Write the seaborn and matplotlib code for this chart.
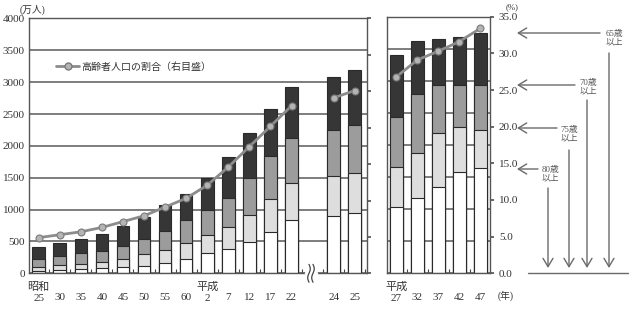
import matplotlib
matplotlib.use("Agg")
import matplotlib.pyplot as plt
import seaborn as sns
import pandas as pd
import numpy as np
from matplotlib.lines import Line2D

# ---------------- data ----------------
left_labels = ["昭和\n25", "\n30", "\n35", "\n40", "\n45", "\n50", "\n55", "\n60",
               "平成\n2", "\n7", "\n12", "\n17", "\n22", "\n24", "\n25"]
left_total = [410, 479, 535, 618, 740, 890, 1070, 1250, 1495, 1830, 2205, 2580, 2930, 3080, 3190]
left_70 = [220, 272, 314, 356, 429, 534, 665, 838, 995, 1179, 1493, 1844, 2122, 2253, 2331]
left_75 = [104, 130, 146, 183, 220, 298, 366, 481, 602, 723, 916, 1163, 1425, 1530, 1572]
left_80 = [41, 52, 63, 78, 94, 115, 157, 220, 314, 382, 497, 654, 838, 900, 943]
left_ratio = [4.9, 5.3, 5.7, 6.3, 7.1, 7.9, 9.1, 10.3, 12.1, 14.6, 17.4, 20.2, 23.0, 24.1, 25.1]

right_labels = ["平成\n27", "\n32", "\n37", "\n42", "\n47"]
right_total = [3403, 3621, 3652, 3678, 3741]
right_70 = [2432, 2790, 2935, 2935, 2935]
right_75 = [1652, 1880, 2182, 2285, 2234]
right_80 = [1029, 1178, 1350, 1584, 1637]
right_ratio = [26.8, 29.1, 30.3, 31.6, 33.4]

left_yticks = [0, 500, 1000, 1500, 2000, 2500, 3000, 3500, 4000]
right_yticks = [0, 5, 10, 15, 20, 25, 30, 35]
legend_label = "高齢者人口の割合（右目盛）"
age_notes = ["65歳\n以上", "70歳\n以上", "75歳\n以上", "80歳\n以上"]

# ---------------- style ----------------
sns.set_theme(style="white")
plt.rcParams['font.family'] = ['Liberation Serif', 'Noto Sans CJK JP', 'DejaVu Sans']
plt.rcParams['axes.unicode_minus'] = False

DARK, MID, LIGHT, WHITE = "#363636", "#9c9c9c", "#dedede", "#ffffff"
EDGE = "#2a2a2a"
GRID = "#5a5a5a"
LINEC = "#8c8c8c"
ANN = "#6a6a6a"

W, H = 632, 309
fig = plt.figure(figsize=(W / 100, H / 100), dpi=100)
axL = fig.add_axes([29 / W, 1 - 273.3 / H, 337.5 / W, 254.8 / H])
axR = fig.add_axes([386.7 / W, 1 - 273.3 / H, 103.8 / W, 256.6 / H])

left_pos = list(range(13)) + [14, 15]
right_pos = list(range(5))


def draw_panel(ax, pos, labels, tot, o70, o75, o80, ratio, xlim, segs):
    df = pd.DataFrame({"x": pos, "tot": tot, "o70": o70, "o75": o75, "o80": o80,
                       "ratio": ratio, "seg": segs})
    for col, c in [("tot", DARK), ("o70", MID), ("o75", LIGHT), ("o80", WHITE)]:
        sns.barplot(data=df, x="x", y=col, native_scale=True, width=0.6, color=c,
                    saturation=1, edgecolor=EDGE, linewidth=0.8, errorbar=None, ax=ax)
    ax.set_xlim(*xlim)
    ax.set_ylim(0, 4000)
    ax.set_yticks(left_yticks)
    ax.set_axisbelow(True)
    ax.yaxis.grid(True, color=GRID, lw=1.1)
    ax.xaxis.grid(False)
    ax.set_xlabel("")
    ax.set_ylabel("")
    ax.set_xticks(pos)
    ax.set_xticklabels(labels, fontsize=8, color="#333", linespacing=1.35)
    ax.set_xticks(np.arange(xlim[0] + 0.0, xlim[1], 1.0).round() - 0.5, minor=True)
    ax.tick_params(axis="x", which="major", length=0, pad=6)
    ax.tick_params(axis="x", which="minor", direction="in", length=3, bottom=True,
                   color="#444", width=0.8)
    for s in ax.spines.values():
        s.set_color("#555")
        s.set_linewidth(1.0)
    tw = ax.twinx()
    tw.set_ylim(0, 35)
    tw.set_yticks(right_yticks)
    tw.grid(False)
    sns.lineplot(data=df, x="x", y="ratio", units="seg", estimator=None, color=LINEC,
                 lw=2, marker="o", markersize=5, markerfacecolor="#b4b4b4",
                 markeredgecolor="#7a7a7a", markeredgewidth=0.8, ax=tw, legend=False)
    tw.set_xlim(*xlim)
    tw.set_ylabel("")
    for s in tw.spines.values():
        s.set_visible(False)
    return tw


twL = draw_panel(axL, left_pos, left_labels, left_total, left_70, left_75, left_80,
                 left_ratio, (-0.46, 15.56), [0 if p < 13 else 1 for p in left_pos])
twR = draw_panel(axR, right_pos, right_labels, right_total, right_70, right_75, right_80,
                 right_ratio, (-0.46, 4.49), [0] * 5)

axL.set_yticklabels([str(v) for v in left_yticks], fontsize=8, color="#333")
axL.tick_params(axis="y", length=0, pad=3)
axR.tick_params(axis="y", length=0, labelleft=False)
twL.tick_params(axis="y", direction="out", length=3, labelright=False, color="#555")
twR.set_yticklabels([f"{v:.1f}" for v in right_yticks], fontsize=8, color="#333")
twR.tick_params(axis="y", direction="out", length=3, pad=3, color="#555")

# break symbol on the left panel x-axis
tr = axL.get_xaxis_transform()
t = np.linspace(-1, 1, 40)
axL.plot([12.7, 13.15], [0, 0], color="white", lw=2.5, transform=tr, clip_on=False, zorder=5)
for dx in (12.83, 13.02):
    axL.plot(dx + 0.06 * np.sin(t * np.pi), t * 0.035, color="#444", lw=0.9,
             transform=tr, clip_on=False, zorder=6)

# legend
handle = Line2D([], [], color=LINEC, lw=2, marker="o", markersize=5,
                markerfacecolor="#b4b4b4", markeredgecolor="#7a7a7a")
fig.legend([handle], [legend_label], loc="center left", frameon=False,
           bbox_to_anchor=(56 / W, 1 - 67 / H), bbox_transform=fig.transFigure,
           borderpad=0, borderaxespad=0, handlelength=2.3, handletextpad=0.2,
           prop={"size": 7.2}, labelcolor="#333")

# unit labels
fig.text(32 / W, 1 - 10 / H, "(万人)", fontsize=7, ha="center", va="center", color="#333")
fig.text(512 / W, 1 - 7 / H, "(%)", fontsize=6.3, ha="center", va="center", color="#333")
fig.text(506 / W, 1 - 296 / H, "(年)", fontsize=7, ha="center", va="center", color="#333")

# right-side age annotations
def P(x, y):
    return (x, H - y)

notes_geom = [  # text center, horizontal arrow y, arrow start x, vertical x, vertical start y
    ((614, 38), 33, 600, 609, 53),
    ((588, 87), 85, 575, 587, 100),
    ((569, 134), 128, 557, 569, 150),
    ((550, 174), 169, 538, 548, 188),
]
ap = dict(arrowstyle="->,head_length=0.5,head_width=0.3", color=ANN, lw=1.0,
          shrinkA=0, shrinkB=0)
for txt, (tc, ay, ax0, vx, vy) in zip(age_notes, notes_geom):
    fig.text(tc[0] / W, 1 - tc[1] / H, txt, fontsize=6.3, ha="center", va="center",
             color="#555", linespacing=1.0)
    axR.annotate("", xy=P(517, ay), xytext=P(ax0, ay), xycoords="figure pixels",
                 textcoords="figure pixels", arrowprops=ap, annotation_clip=False)
    axR.annotate("", xy=P(vx, 268), xytext=P(vx, vy), xycoords="figure pixels",
                 textcoords="figure pixels", arrowprops=ap, annotation_clip=False)
fig.add_artist(Line2D([528 / W, 628 / W], [1 - 273 / H] * 2, transform=fig.transFigure,
                      color=ANN, lw=1.0))

fig.savefig("out.png", dpi=100)
